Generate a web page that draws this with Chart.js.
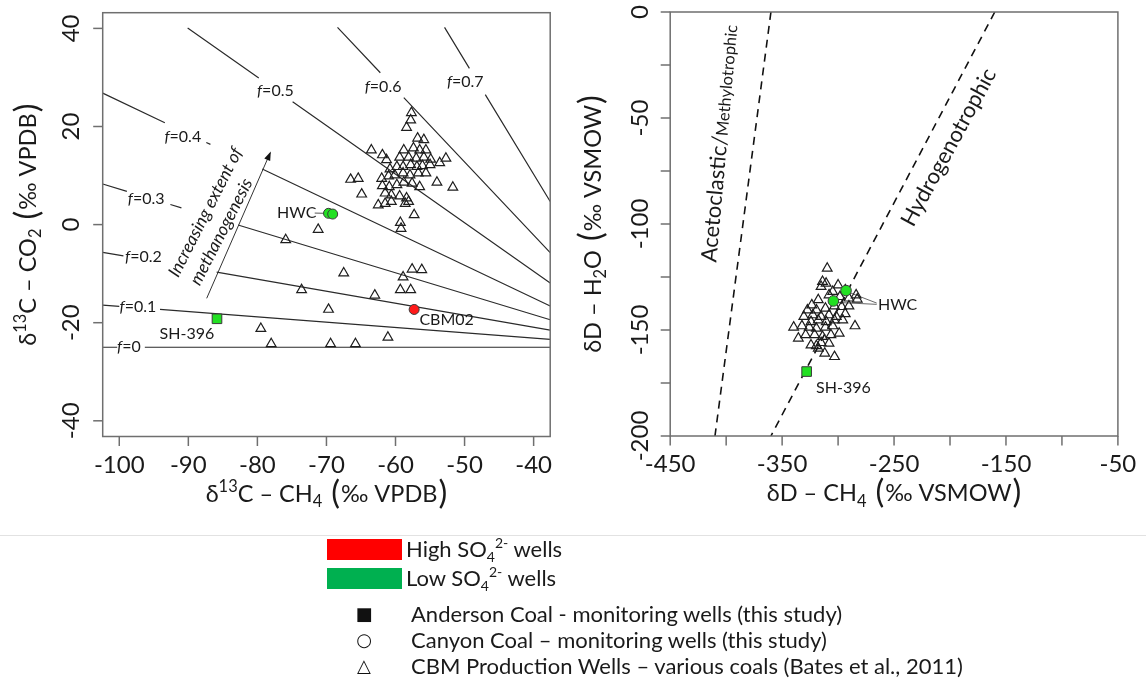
<!DOCTYPE html>
<html>
<head>
<meta charset="utf-8">
<title>Carbon and hydrogen isotope plots</title>
<script src="https://cdn.jsdelivr.net/npm/chart.js@4.4.1/dist/chart.umd.min.js"></script>
<style>
  html, body { margin:0; padding:0; background:#fff; }
  #wrap { position:relative; width:1146px; height:690px; overflow:hidden; background:#fff; }
  #wrap canvas { position:absolute; left:0; top:0; }
  .sep { position:absolute; left:0; top:535px; width:1146px; height:1px; background:#e2e2e2; }
  .sw { position:absolute; width:75px; height:21px; }
  .lt { position:absolute; font-family:Lato, "Open Sans", sans-serif; font-size:22px; line-height:22px; color:#1a1a1a; white-space:nowrap; transform:translateY(-50%); }
  .lt .sb { font-size:14px; position:relative; top:5px; }
  .lt .sp { font-size:14px; position:relative; top:-9px; }
  .sym { position:absolute; font-family:"DejaVu Sans", sans-serif; font-size:18px; line-height:18px; color:#111; transform:translate(-50%,-50%); }
</style>
</head>
<body>
<div id="wrap">
  <canvas id="leftPlot" width="1146" height="690"></canvas>
  <canvas id="rightPlot" width="1146" height="690"></canvas>
  <div class="sep"></div>
  <div class="sw" style="left:327px;top:539px;background:#ff0000;"></div>
  <div class="sw" style="left:327px;top:568px;background:#00b050;"></div>
  <div class="lt" style="left:406px;top:550px;">High SO<span class="sb">4</span><span class="sp">2-</span> wells</div>
  <div class="lt" style="left:406px;top:579px;">Low SO<span class="sb">4</span><span class="sp">2-</span> wells</div>
  <div class="sym" style="left:364px;top:614px;">■</div>
  <div class="sym" style="left:364px;top:640px;">○</div>
  <div class="sym" style="left:364px;top:666px;">△</div>
  <div class="lt" style="left:411px;top:614px;">Anderson Coal - monitoring wells (this study)</div>
  <div class="lt" style="left:411px;top:640px;">Canyon Coal – monitoring wells (this study)</div>
  <div class="lt" style="left:411px;top:666px;">CBM Production Wells – various coals (Bates et al., 2011)</div>
</div>
<script>
// ---------------- LEFT PANEL DATA: δ13C-CH4 (x) vs δ13C-CO2 (y) ----------------
const cbmC_CH4 = [-57.7,-57.8,-58.4,-56.8,-55.9,-63.5,-61.9,-61.3,-58.8,-57.4,
  -56.5,-55.6,-59.4,-58.1,-57.0,-55.9,-54.9,-53.6,-52.7,-60.8,
  -59.8,-58.9,-57.8,-56.9,-56.1,-55.0,-62.0,-61.0,-60.1,-58.9,
  -57.9,-56.7,-55.6,-54.0,-51.7,-66.5,-65.4,-64.9,-61.9,-60.9,
  -59.8,-58.8,-57.6,-56.5,-61.5,-60.6,-59.4,-58.4,-62.5,-61.5,
  -60.6,-58.6,-58.1,-57.3,-59.3,-59.2,-71.2,-75.9,
  -67.5,-57.6,-56.2,-58.9,-73.6,-63.0,-59.3,-57.8,-69.7,-79.5,-78.0,-69.4,-65.8,-61.1];
const cbmC_CO2 = [22.8,21.3,19.8,17.6,17.3,15.2,14.2,13.2,15.2,15.6,
  15.2,15.2,13.7,13.7,13.5,13.7,13.3,12.6,13.5,11.3,
  11.8,11.8,12.2,11.8,12.0,12.2,9.4,9.9,10.1,10.5,
  10.1,10.5,10.5,8.6,7.6,9.2,9.4,6.2,7.9,7.7,
  8.1,8.6,8.4,7.7,6.4,6.0,5.8,5.4,4.0,4.3,
  4.7,4.3,4.7,2.0,0.4,-0.8,-1.0,-3.1,
  -9.9,-9.1,-9.2,-10.7,-13.3,-14.4,-13.3,-13.3,-17.3,-21.2,-24.3,-24.3,-24.3,-23.0];
const hwcC_CH4 = [-69.7, -69.1];
const hwcC_CO2 = [2.3, 2.15];
const cbm02C_CH4 = [-57.3];
const cbm02C_CO2 = [-17.3];
const sh396C_CH4 = [-85.85];
const sh396C_CO2 = [-19.2];

// fraction (f) reference lines, segments separated by null (gaps for labels)
const fNames = ['0','0.1','0.2','0.3','0.4','0.5','0.6','0.7'];
const fLineX = [
  [-102.4,-100.3,null,-96.3,-37.6],
  [-102.4,-100.0,null,-94.1,-37.6],
  [-102.4,-99.4,null,-85.9,-37.6],
  [-102.4,-98.9,null,-92.6,-91.0,null,-82.8,-37.6],
  [-102.4,-93.4,null,-87.4,-86.8,null,-79.3,-37.6],
  [-90.1,-79.8,null,-74.9,-37.6],
  [-68.4,-62.2,null,-58.8,-37.6],
  [-52.9,-49.3,null,-47.0,-37.6]
];
const fLineY = [
  [-25,-25,null,-25,-25],
  [-16.4,-16.66,null,-17.3,-23.4],
  [-5.65,-6.38,null,-9.69,-21.5],
  [8.28,6.78,null,4.09,3.41,null,-0.09,-19.4],
  [26.8,20.77,null,16.75,16.35,null,11.33,-16.6],
  [40.1,29.9,null,25.04,-11.9],
  [40.2,30.96,null,25.9,-5.7],
  [40.2,31.85,null,26.51,4.7]
];
const fLabelX = [-98.6,-97.3,-96.5,-96.1,-90.8,-77.4,-61.8,-49.9];
const fLabelY = [-24.9,-16.6,-6.5,5.4,18.1,27.3,28.3,29.3];
const arrowX = [-87.34,-78.17];
const arrowY = [-15.03,14.54];
const leftXTicks = [-100,-90,-80,-70,-60,-50,-40];
const leftYTicks = [40,20,0,-20,-40];

// ---------------- RIGHT PANEL DATA: δD-CH4 (x) vs δD-H2O (y) ----------------
const cbmD_CH4 = [-309.7,-313.9,-310.7,-315.2,-300.0,-293.6,-283.9,-282.9,-323.5,-317.7,
  -308.1,-304.8,-298.4,-290.3,-327.4,-319.3,-311.3,-303.2,-296.8,-290.3,
  -330.6,-322.6,-315.2,-308.1,-301.6,-293.6,-324.2,-317.7,-310.6,-303.2,
  -295.8,-339.7,-332.3,-325.8,-319.4,-311.3,-304.8,-284.9,-335.5,-329.0,
  -321.0,-313.9,-306.4,-299.0,-324.2,-319.4,-315.2,-308.1,-311.9,-303.2,-317.7];
const cbmD_H2O = [-120.9,-127.2,-128.0,-129.5,-128.8,-131.1,-133.5,-135.5,-138.2,-135.8,
  -133.5,-131.9,-134.3,-135.0,-140.6,-140.6,-139.8,-138.7,-139.0,-138.7,
  -143.7,-142.9,-143.7,-142.9,-143.7,-142.4,-146.1,-145.3,-146.1,-145.3,
  -145.3,-148.7,-148.1,-148.7,-149.2,-148.7,-148.1,-148.1,-153.9,-152.3,
  -152.3,-153.1,-152.3,-151.6,-157.1,-157.5,-156.0,-156.3,-161.0,-162.6,-158.6];
const hwcD_CH4 = [-292.9, -304.2];
const hwcD_H2O = [-131.4, -136.3];
const sh396D_CH4 = [-328.1];
const sh396D_H2O = [-169.6];
const acetoLineX = [-360, -410];
const acetoLineY = [0, -200];
const hydroLineX = [-160, -360];
const hydroLineY = [0, -200];
const rightXTicks = [-450,-400,-350,-300,-250,-200,-150,-100,-50];
const rightXLabels = [-450,-350,-250,-150,-50];
const rightYTicks = [0,-25,-50,-75,-100,-125,-150,-175,-200];
const rightYLabels = [0,-50,-100,-150,-200];

// ---------------- styling / helpers ----------------
const FONT = 'Lato, "Open Sans", sans-serif';
const TXT = '#1a1a1a';
const AXC = '#6f6f6f';
const GREEN = '#22e022';
const RED = '#ff1a1a';
const pts = (xs, ys) => xs.map((x, i) => ({x: x, y: ys[i]}));

function rich(ctx, parts, cx, cy, angleDeg, base, color) {
  ctx.save();
  ctx.translate(cx, cy);
  ctx.rotate(angleDeg * Math.PI / 180);
  ctx.fillStyle = color || TXT;
  ctx.textBaseline = 'alphabetic';
  ctx.textAlign = 'left';
  let total = 0;
  const m = parts.map(p => {
    const size = base * (p.scale || 1);
    const font = (p.italic ? 'italic ' : '') + size + 'px ' + FONT;
    ctx.font = font;
    const w = ctx.measureText(p.t).width;
    total += w + (p.padL || 0);
    return {font, w};
  });
  let x = -total / 2;
  const by = base * 0.36;
  parts.forEach((p, i) => {
    x += (p.padL || 0);
    ctx.font = m[i].font;
    ctx.fillText(p.t, x, by + (p.dy || 0) * base);
    x += m[i].w;
  });
  ctx.restore();
}
function seg(ctx, x1, y1, x2, y2) { ctx.beginPath(); ctx.moveTo(x1, y1); ctx.lineTo(x2, y2); ctx.stroke(); }

function framePlugin(spec) {
  return {
    id: 'frame_' + spec.id,
    afterDatasetsDraw(chart) {
      const ctx = chart.ctx, a = chart.chartArea, sx = chart.scales.x, sy = chart.scales.y;
      ctx.save();
      ctx.strokeStyle = AXC; ctx.lineWidth = 1.5;
      ctx.strokeRect(a.left, a.top, a.right - a.left, a.bottom - a.top);
      spec.xTicks.forEach(v => { const p = sx.getPixelForValue(v); seg(ctx, p, a.bottom, p, a.bottom + 9.5); });
      spec.yTicks.forEach(v => { const p = sy.getPixelForValue(v); seg(ctx, a.left, p, a.left - 9.5, p); });
      spec.xLabels.forEach(v => rich(ctx, [{t: String(v)}], sx.getPixelForValue(v), a.bottom + 27.5, 0, 24));
      spec.yLabels.forEach(v => rich(ctx, [{t: String(v)}], a.left - spec.yLabOff, sy.getPixelForValue(v), -90, 24));
      rich(ctx, spec.xTitle, (a.left + a.right) / 2, a.bottom + 57, 0, 23.5);
      rich(ctx, spec.yTitle, a.left - spec.yTitleOff, (a.top + a.bottom) / 2, -90, 23.5);
      if (spec.extra) spec.extra(chart, ctx, sx, sy);
      ctx.restore();
    }
  };
}

const baseOptions = (xmin, xmax, ymin, ymax, pad) => ({
  responsive: false, animation: false, events: [],
  layout: {padding: pad},
  plugins: {legend: {display: false}, tooltip: {enabled: false}},
  scales: {
    x: {type: 'linear', min: xmin, max: xmax, display: false},
    y: {type: 'linear', min: ymin, max: ymax, display: false}
  }
});

// ---------------- LEFT CHART ----------------
const leftDatasets = [];
fNames.forEach((n, i) => {
  leftDatasets.push({label: 'f=' + n, data: pts(fLineX[i], fLineY[i]), showLine: true, spanGaps: false,
    borderColor: '#2b2b2b', borderWidth: 1.2, pointRadius: 0, order: 10});
});
leftDatasets.push({label: 'arrow', data: pts(arrowX, arrowY), showLine: true, borderColor: '#333',
  borderWidth: 1, pointRadius: 0, order: 9});
leftDatasets.push({label: 'HWC leader', data: pts([-71.7, -70.1], [2.35, 2.3]), showLine: true,
  borderColor: '#555', borderWidth: 1, pointRadius: 0, order: 8});
leftDatasets.push({label: 'CBM production wells', data: pts(cbmC_CH4, cbmC_CO2), pointStyle: 'triangle',
  pointRadius: 5.6, borderColor: '#1e1e1e', borderWidth: 1.2, backgroundColor: 'rgba(255,255,255,0)', order: 5});
leftDatasets.push({label: 'HWC', data: pts(hwcC_CH4, hwcC_CO2), pointStyle: 'circle', pointRadius: 5,
  backgroundColor: GREEN, borderColor: '#3a3a3a', borderWidth: 1, order: 1});
leftDatasets.push({label: 'CBM02', data: pts(cbm02C_CH4, cbm02C_CO2), pointStyle: 'circle', pointRadius: 5,
  backgroundColor: RED, borderColor: '#3a3a3a', borderWidth: 1, order: 1});
leftDatasets.push({label: 'SH-396', data: pts(sh396C_CH4, sh396C_CO2), pointStyle: 'rect', pointRadius: 6.8,
  backgroundColor: GREEN, borderColor: '#3a3a3a', borderWidth: 1, order: 1});

const leftSpec = {
  id: 'L', xTicks: leftXTicks, yTicks: leftYTicks, xLabels: leftXTicks, yLabels: leftYTicks,
  yLabOff: 32, yTitleOff: 75,
  xTitle: [{t: 'δ'}, {t: '13', scale: 0.7, dy: -0.42}, {t: 'C – CH'}, {t: '4', scale: 0.7, dy: 0.22},
           {t: '(', scale: 1.4, dy: 0.07, padL: 9}, {t: '‰ VPDB', padL: 1}, {t: ')', scale: 1.4, dy: 0.07, padL: 1}],
  yTitle: [{t: 'δ'}, {t: '13', scale: 0.7, dy: -0.42}, {t: 'C – CO'}, {t: '2', scale: 0.7, dy: 0.22},
           {t: '(', scale: 1.4, dy: 0.07, padL: 9}, {t: '‰ VPDB', padL: 1}, {t: ')', scale: 1.4, dy: 0.07, padL: 1}],
  extra(chart, ctx, sx, sy) {
    fNames.forEach((n, i) => rich(ctx, [{t: 'f', italic: true}, {t: '=' + n}],
      sx.getPixelForValue(fLabelX[i]), sy.getPixelForValue(fLabelY[i]), 0, 16));
    const x0 = sx.getPixelForValue(arrowX[0]), y0 = sy.getPixelForValue(arrowY[0]);
    const x1 = sx.getPixelForValue(arrowX[1]), y1 = sy.getPixelForValue(arrowY[1]);
    const ang = Math.atan2(y1 - y0, x1 - x0);
    ctx.save(); ctx.translate(x1, y1); ctx.rotate(ang);
    ctx.fillStyle = '#111'; ctx.beginPath(); ctx.moveTo(2, 0); ctx.lineTo(-7, -3.2); ctx.lineTo(-7, 3.2); ctx.closePath(); ctx.fill();
    ctx.restore();
    rich(ctx, [{t: 'Increasing extent of', italic: true}], sx.getPixelForValue(-87.6), sy.getPixelForValue(2.57), -63, 17.5);
    rich(ctx, [{t: 'methanogenesis', italic: true}], sx.getPixelForValue(-85.3), sy.getPixelForValue(-1.4), -63, 17.5);
    rich(ctx, [{t: 'HWC'}], sx.getPixelForValue(-74.3), sy.getPixelForValue(2.6), 0, 16);
    rich(ctx, [{t: 'CBM02'}], sx.getPixelForValue(-52.6), sy.getPixelForValue(-19.3), 0, 16);
    rich(ctx, [{t: 'SH-396'}], sx.getPixelForValue(-90.2), sy.getPixelForValue(-22.2), 0, 16);
  }
};

new Chart(document.getElementById('leftPlot'), {
  type: 'scatter',
  data: {datasets: leftDatasets},
  options: baseOptions(-102.4, -37.6, -43.2, 43.2, {left: 102.7, top: 12.7, right: 1146 - 550.2, bottom: 690 - 436.5}),
  plugins: [framePlugin(leftSpec)]
});

// ---------------- RIGHT CHART ----------------
const rightDatasets = [
  {label: 'Acetoclastic/Methylotrophic', data: pts(acetoLineX, acetoLineY), showLine: true, borderColor: '#111',
    borderWidth: 1.6, borderDash: [8, 6], pointRadius: 0, order: 10},
  {label: 'Hydrogenotrophic', data: pts(hydroLineX, hydroLineY), showLine: true, borderColor: '#111',
    borderWidth: 1.6, borderDash: [8, 6], pointRadius: 0, order: 10},
  {label: 'HWC leader 1', data: pts([-289.5, -265.5], [-132.4, -137.3]), showLine: true, borderColor: '#555',
    borderWidth: 0.9, pointRadius: 0, order: 8},
  {label: 'HWC leader 2', data: pts([-300.5, -265.5], [-137.0, -137.9]), showLine: true, borderColor: '#555',
    borderWidth: 0.9, pointRadius: 0, order: 8},
  {label: 'CBM production wells', data: pts(cbmD_CH4, cbmD_H2O), pointStyle: 'triangle', pointRadius: 5.6,
    borderColor: '#1e1e1e', borderWidth: 1.2, backgroundColor: 'rgba(255,255,255,0)', order: 5},
  {label: 'HWC', data: pts(hwcD_CH4, hwcD_H2O), pointStyle: 'circle', pointRadius: 5.3,
    backgroundColor: GREEN, borderColor: '#3a3a3a', borderWidth: 1, order: 1},
  {label: 'SH-396', data: pts(sh396D_CH4, sh396D_H2O), pointStyle: 'rect', pointRadius: 6.8,
    backgroundColor: GREEN, borderColor: '#3a3a3a', borderWidth: 1, order: 1}
];
const rightSpec = {
  id: 'R', xTicks: rightXTicks, yTicks: rightYTicks, xLabels: rightXLabels, yLabels: rightYLabels,
  yLabOff: 31, yTitleOff: 78,
  xTitle: [{t: 'δD – CH'}, {t: '4', scale: 0.7, dy: 0.22},
           {t: '(', scale: 1.4, dy: 0.07, padL: 9}, {t: '‰ VSMOW', padL: 1}, {t: ')', scale: 1.4, dy: 0.07, padL: 1}],
  yTitle: [{t: 'δD – H'}, {t: '2', scale: 0.7, dy: 0.22}, {t: 'O'},
           {t: '(', scale: 1.4, dy: 0.07, padL: 9}, {t: '‰ VSMOW', padL: 1}, {t: ')', scale: 1.4, dy: 0.07, padL: 1}],
  extra(chart, ctx, sx, sy) {
    rich(ctx, [{t: 'Acetoclastic/'}, {t: 'Methylotrophic', scale: 0.75}],
      sx.getPixelForValue(-406.4), sy.getPixelForValue(-62), -84.9, 22);
    rich(ctx, [{t: 'Hydrogenotrophic'}], sx.getPixelForValue(-201.8), sy.getPixelForValue(-63.7), -61.6, 22);
    rich(ctx, [{t: 'HWC'}], sx.getPixelForValue(-246.8), sy.getPixelForValue(-137.7), 0, 16);
    rich(ctx, [{t: 'SH-396'}], sx.getPixelForValue(-295.2), sy.getPixelForValue(-177.0), 0, 16);
  }
};
new Chart(document.getElementById('rightPlot'), {
  type: 'scatter',
  data: {datasets: rightDatasets},
  options: baseOptions(-450, -50, -200, 0, {left: 670.2, top: 12, right: 1146 - 1117.9, bottom: 690 - 436}),
  plugins: [framePlugin(rightSpec)]
});
</script>
</body>
</html>
